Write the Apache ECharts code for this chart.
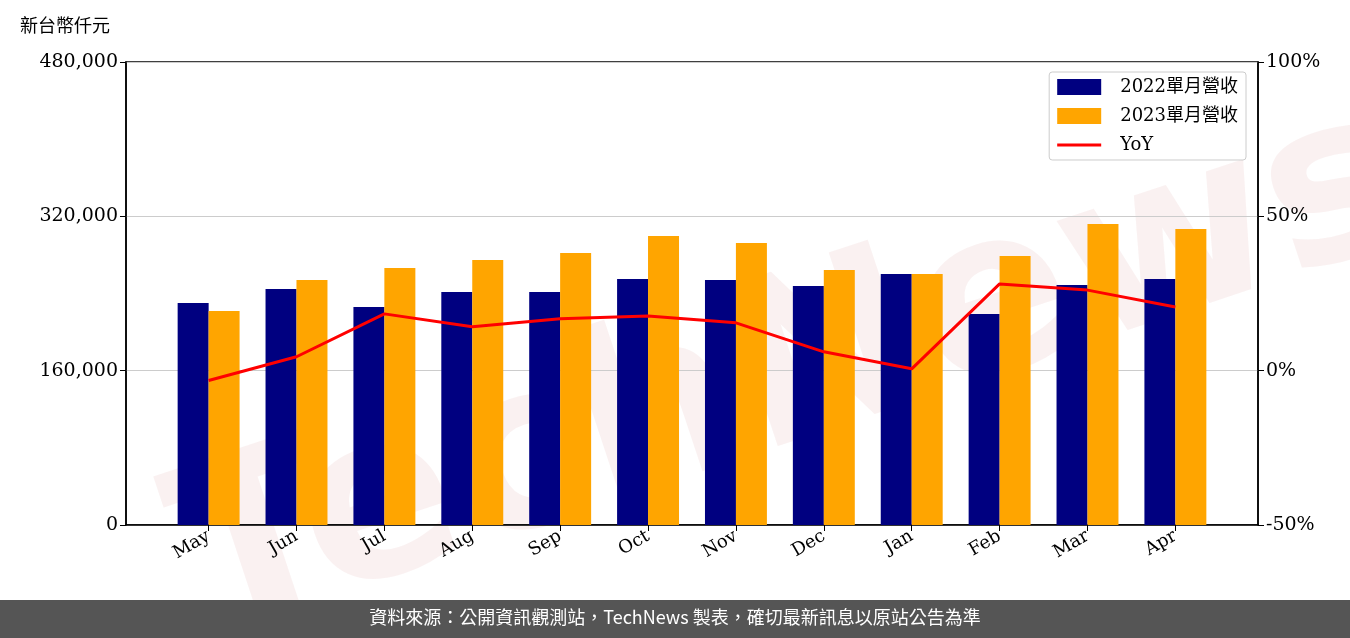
<!DOCTYPE html>
<html><head><meta charset="utf-8">
<script src="https://cdn.jsdelivr.net/npm/echarts@6/dist/echarts.min.js"></script>
<style>html,body{margin:0;padding:0;background:#fff}#c{width:1350px;height:638px}</style>
</head><body><div id="c"></div>
<script>
const months = ['May','Jun','Jul','Aug','Sep','Oct','Nov','Dec','Jan','Feb','Mar','Apr'];
const rev2022 = [230150,244670,226000,241550,241550,255030,254000,247780,260220,218750,248810,255030];
const rev2023 = [221860,254000,266440,274730,282000,299610,292350,264360,260220,278880,312050,306870];
const yoy = [-3.2,4.5,18.4,14.2,16.8,17.7,15.5,6.1,0.6,28.1,26.1,20.6];
const leftTicks = [0,160000,320000,480000];
const rightTicks = [-50,0,50,100];

const serif = 'DejaVu Serif';
const chart = echarts.init(document.getElementById('c'));
const off = 0.176;
const blk = {show:true,onZero:false,lineStyle:{color:'#000',width:1.5}};
chart.setOption({
  animation:false,
  grid:{left:126,right:92,top:62,bottom:113,show:true,borderColor:'#000',borderWidth:1.5,backgroundColor:'transparent'},
  graphic:[
    {type:'text',left:20,top:16,style:{text:'新台幣仟元',font:'18px "Noto Sans CJK TC"',fill:'#000'}},
    {type:'text',x:150,y:470,rotation:0.32,z:-1,style:{text:'TechNews',font:'bold 230px "DejaVu Sans"',fill:'rgba(235,200,200,0.25)'}},
    {type:'rect',left:0,top:600,shape:{width:1350,height:38},style:{fill:'#555'}},
    {type:'text',left:'center',top:608,style:{text:'資料來源：公開資訊觀測站，TechNews 製表，確切最新訊息以原站公告為準',font:'18px "Noto Sans CJK TC"',fill:'#fff'}}
  ],
  legend:{right:104,top:72,orient:'vertical',itemGap:11,padding:[6,8,6,8],borderColor:'#ccc',borderWidth:1,borderRadius:3,
    backgroundColor:'#fff',itemWidth:44,itemHeight:16,textStyle:{fontFamily:serif+',"Noto Sans CJK TC"',fontSize:18,color:'#000',padding:[0,0,0,14]},
    data:[{name:'2022單月營收',icon:'rect'},{name:'2023單月營收',icon:'rect'},{name:'YoY',icon:'path://M0,7L44,7L44,10L0,10Z'}]},
  xAxis:{type:'value',min:-0.94,max:11.94,
    axisLine:blk,splitLine:{show:false},
    axisTick:{show:true,customValues:months.map((m,i)=>i),length:6,lineStyle:{color:'#000'}},
    axisLabel:{customValues:months.map((m,i)=>i),formatter:v=>months[Math.round(v)],rotate:30,margin:10,fontFamily:serif,fontSize:18,color:'#000'}},
  yAxis:[
    {type:'value',min:0,max:480000,interval:160000,
      axisLine:blk,axisTick:{show:true,length:6,lineStyle:{color:'#000'}},
      axisLabel:{fontFamily:serif,fontSize:19,color:'#000',formatter:v=>v.toLocaleString('en-US')},
      splitLine:{lineStyle:{color:'#ccc',width:1.2}}},
    {type:'value',min:-50,max:100,interval:50,position:'right',
      axisLine:blk,axisTick:{show:true,length:6,lineStyle:{color:'#000'}},
      axisLabel:{fontFamily:serif,fontSize:19,color:'#000',formatter:v=>v+'%'},splitLine:{show:false}}
  ],
  series:[
    {name:'2022單月營收',type:'bar',barWidth:31,barGap:'-100%',itemStyle:{color:'#000080'},data:rev2022.map((v,i)=>[i-off,v])},
    {name:'2023單月營收',type:'bar',barWidth:31,barGap:'-100%',itemStyle:{color:'#FFA500'},data:rev2023.map((v,i)=>[i+off,v])},
    {name:'YoY',type:'line',yAxisIndex:1,symbol:'none',lineStyle:{color:'#f00',width:3},itemStyle:{color:'#f00'},data:yoy.map((v,i)=>[i,v])}
  ]
});
</script></body></html>
